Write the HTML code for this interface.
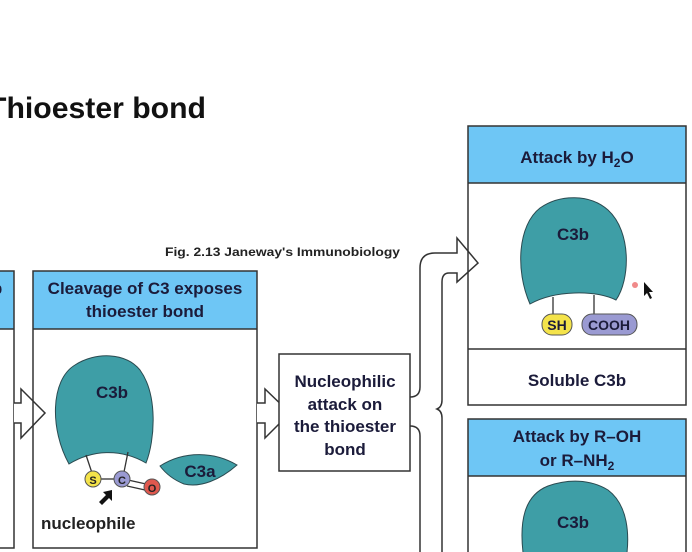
<!DOCTYPE html>
<html><head><meta charset="utf-8"><style>
html,body{margin:0;padding:0;background:#fff;}
svg{display:block;}
text{font-family:"Liberation Sans",sans-serif;}
.h{font-weight:bold;font-size:17px;fill:#1b1b3a;text-anchor:middle;}
</style></head><body>
<svg width="692" height="552" viewBox="0 0 692 552" xmlns="http://www.w3.org/2000/svg">
<rect width="692" height="552" fill="#fff"/>
<text x="-12" y="118" font-size="30" font-weight="bold" fill="#111" textLength="218" lengthAdjust="spacingAndGlyphs">Thioester bond</text>
<text x="165" y="256" font-size="11.5" font-weight="bold" fill="#222" textLength="235" lengthAdjust="spacingAndGlyphs">Fig. 2.13 Janeway's Immunobiology</text>

<!-- left partial box -->
<rect x="-5" y="271" width="19" height="58" fill="#6ec6f5"/>
<rect x="-5" y="271" width="19" height="277" fill="none" stroke="#333" stroke-width="1.5"/>
<line x1="-5" y1="329" x2="14" y2="329" stroke="#333" stroke-width="1.5"/>
<text x="-3" y="294" class="h">b</text>

<!-- arrow 1 -->
<path d="M14 403 H21 V389 L45 413 L21 438 V423 H14" fill="#fff" stroke="#333" stroke-width="1.5"/>

<!-- cleavage box -->
<rect x="33" y="271" width="224" height="58" fill="#6ec6f5"/>
<rect x="33" y="271" width="224" height="277" fill="none" stroke="#333" stroke-width="1.5"/>
<line x1="33" y1="329" x2="257" y2="329" stroke="#333" stroke-width="1.5"/>
<text x="145" y="294" class="h">Cleavage of C3 exposes</text>
<text x="145" y="317" class="h">thioester bond</text>

<!-- C3b dome left -->
<path d="M69 464 C50 430 50 380 75 365 C95 352 125 352 140 370 C158 395 155 440 146 463 C120 448 92 450 69 464 Z" fill="#3e9ea6" stroke="#2a4a50" stroke-width="1"/>
<text x="112" y="398" class="h" fill="#1b1b3a">C3b</text>
<line x1="86" y1="455" x2="92" y2="473" stroke="#333" stroke-width="1.3"/>
<line x1="128" y1="452" x2="124" y2="472" stroke="#333" stroke-width="1.3"/>
<line x1="100" y1="479" x2="115" y2="479" stroke="#333" stroke-width="1.3"/>
<line x1="128" y1="480" x2="146" y2="484" stroke="#333" stroke-width="1.3"/>
<line x1="127" y1="486" x2="145" y2="490" stroke="#333" stroke-width="1.3"/>
<circle cx="93" cy="479" r="8" fill="#f4e34a" stroke="#555" stroke-width="1"/>
<circle cx="122" cy="479" r="8" fill="#9a9ad2" stroke="#555" stroke-width="1"/>
<circle cx="152" cy="487" r="8" fill="#e0584e" stroke="#555" stroke-width="1"/>
<text x="93" y="484" font-size="11" font-weight="bold" text-anchor="middle" fill="#222">S</text>
<text x="122" y="484" font-size="11" font-weight="bold" text-anchor="middle" fill="#222">C</text>
<text x="152" y="492" font-size="11" font-weight="bold" text-anchor="middle" fill="#222">O</text>
<path d="M112 490 L103 492 L106 495 L99 502 L102 505 L109 498 L112 501 Z" fill="#111"/>
<text x="41" y="529" font-size="17" font-weight="bold" fill="#222">nucleophile</text>
<!-- C3a -->
<path d="M160 466 C185 450 215 452 237 465 C220 480 200 488 184 484 C174 480 166 474 160 466 Z" fill="#3e9ea6" stroke="#2a4a50" stroke-width="1"/>
<text x="200" y="477" class="h">C3a</text>

<!-- arrow 2 -->
<path d="M257 403 H265 V389 L290 413 L265 438 V423 H257" fill="#fff" stroke="#333" stroke-width="1.5"/>

<!-- nucleophilic box -->
<rect x="279" y="354" width="131" height="117" fill="#fff" stroke="#333" stroke-width="1.5"/>
<text x="345" y="387" class="h">Nucleophilic</text>
<text x="345" y="410" class="h">attack on</text>
<text x="345" y="432" class="h">the thioester</text>
<text x="345" y="455" class="h">bond</text>

<!-- branch arrows -->
<path d="M410 397 Q420 397 420 387 V268 Q420 253 435 253 H457 V238 L478 263 L457 282 V273 H449 Q442 273 442 282 V400 Q442 407 437 409 Q442 411 442 418 V552" fill="none" stroke="#333" stroke-width="1.5"/>
<path d="M410 426 Q420 426 420 436 V552" fill="none" stroke="#333" stroke-width="1.5"/>

<!-- right top box -->
<rect x="468" y="126" width="218" height="57" fill="#6ec6f5"/>
<rect x="468" y="126" width="218" height="279" fill="none" stroke="#333" stroke-width="1.5"/>
<line x1="468" y1="183" x2="686" y2="183" stroke="#333" stroke-width="1.5"/>
<line x1="468" y1="349" x2="686" y2="349" stroke="#333" stroke-width="1.5"/>
<text x="577" y="163" class="h">Attack by H<tspan font-size="12" dy="4">2</tspan><tspan dy="-4">O</tspan></text>
<path d="M530 304 C515 270 518 225 540 208 C560 194 590 194 608 210 C632 232 630 280 616 300 C595 290 555 290 530 304 Z" fill="#3e9ea6" stroke="#2a4a50" stroke-width="1"/>
<text x="573" y="240" class="h">C3b</text>
<line x1="553" y1="297" x2="553" y2="314" stroke="#333" stroke-width="1.3"/>
<line x1="594" y1="295" x2="594" y2="314" stroke="#333" stroke-width="1.3"/>
<rect x="542" y="314" width="30" height="21" rx="10" fill="#f4e34a" stroke="#555"/>
<rect x="582" y="314" width="55" height="21" rx="10" fill="#9a9ad2" stroke="#555"/>
<text x="557" y="330" font-size="14" font-weight="bold" text-anchor="middle" fill="#1b1b3a">SH</text>
<text x="609" y="330" font-size="14" font-weight="bold" text-anchor="middle" fill="#1b1b3a">COOH</text>
<text x="577" y="386" class="h">Soluble C3b</text>
<circle cx="635" cy="285" r="3" fill="#f08a8a"/>
<path d="M644 282 L644 296 L647 293 L650 299 L652 298 L649 292 L653 292 Z" fill="#111"/>

<!-- right bottom box -->
<rect x="468" y="419" width="218" height="57" fill="#6ec6f5"/>
<rect x="468" y="419" width="218" height="140" fill="none" stroke="#333" stroke-width="1.5"/>
<line x1="468" y1="476" x2="686" y2="476" stroke="#333" stroke-width="1.5"/>
<text x="577" y="442" class="h">Attack by R–OH</text>
<text x="577" y="466" class="h">or R–NH<tspan font-size="12" dy="4">2</tspan></text>
<path d="M524 560 C518 520 525 495 548 486 C568 479 590 479 608 490 C628 505 630 535 626 560 Z" fill="#3e9ea6" stroke="#2a4a50" stroke-width="1"/>
<text x="573" y="528" class="h">C3b</text>
</svg>
</body></html>
